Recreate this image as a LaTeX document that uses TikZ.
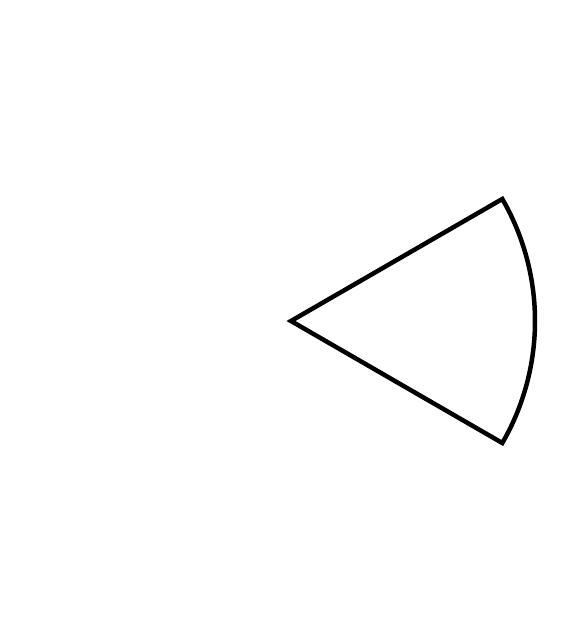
\documentclass[tikz,border=0pt]{standalone}
\begin{document}
\begin{tikzpicture}[x=1pt,y=-1pt,sector/.style={draw=black,line width=4.5pt,line join=miter}]
\useasboundingbox (0,0) rectangle (585,640);
\coordinate (c) at (291,321);
\draw[sector] (c) -- ++(30:244) arc[start angle=30,end angle=-30,radius=244] -- cycle;
\end{tikzpicture}
\end{document}
